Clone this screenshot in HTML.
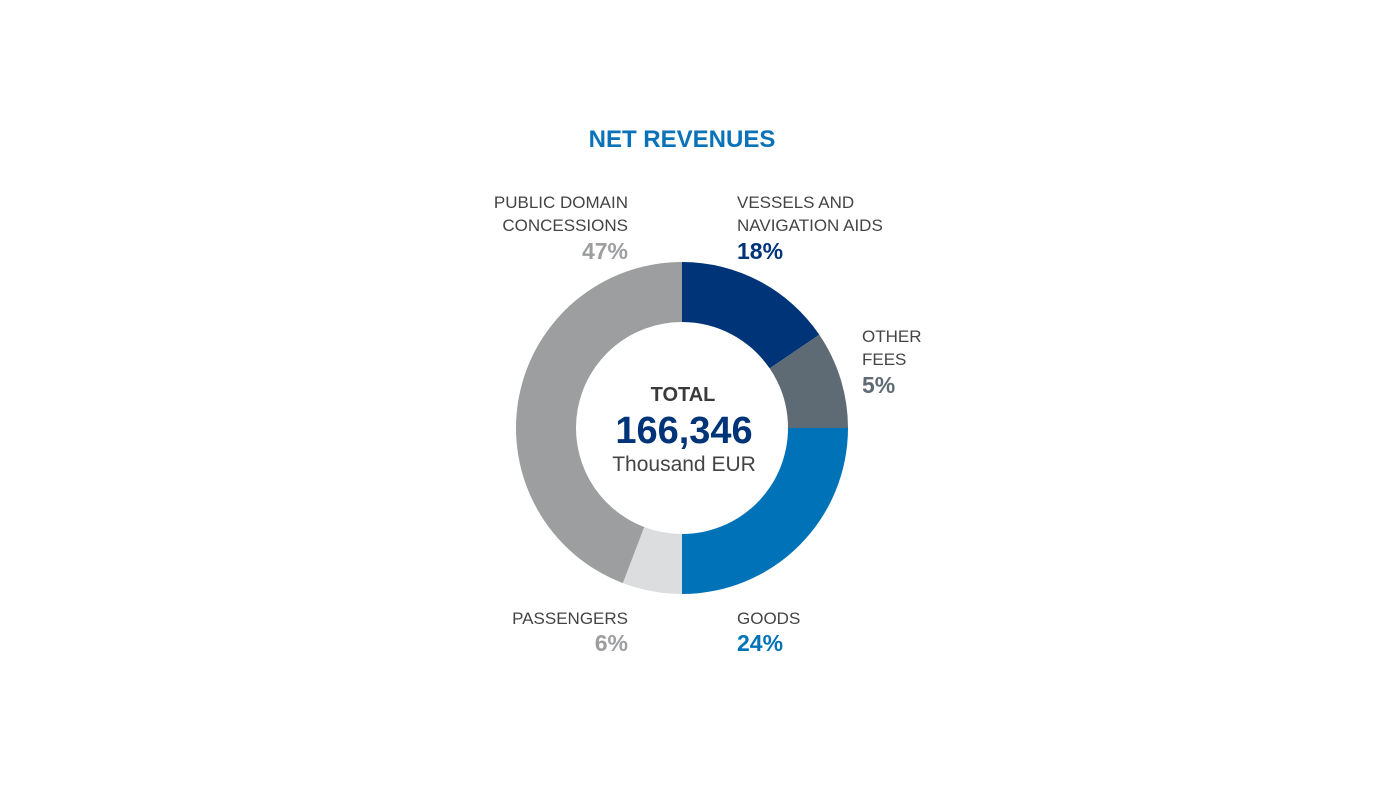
<!DOCTYPE html>
<html><head><meta charset="utf-8"><style>
body{margin:0;background:#fff;}
svg text{font-family:"Liberation Sans",sans-serif;}
</style></head><body>
<svg id="chart" width="1400" height="800" viewBox="0 0 1400 800" xmlns="http://www.w3.org/2000/svg">
<text x="682" y="147" text-anchor="middle" font-size="24" font-weight="bold" fill="#0a72b8">NET REVENUES</text>
<g id="slices"></g>
<g id="labels"></g>
<text x="683" y="401" text-anchor="middle" font-size="20" font-weight="bold" fill="#3a3a3a">TOTAL</text>
<text x="684" y="443" text-anchor="middle" font-size="38" font-weight="bold" fill="#003478">166,346</text>
<text x="684" y="471" text-anchor="middle" font-size="21" fill="#444">Thousand EUR</text>
</svg>
<script>
// drawn-angle shares (clockwise from 12 o'clock)
const categories = ["VESSELS AND|NAVIGATION AIDS","OTHER|FEES","GOODS","PASSENGERS","PUBLIC DOMAIN|CONCESSIONS"];
const values = [15.5, 9.5, 25, 5.8, 44.2];
const pctLabels = ["18%","5%","24%","6%","47%"];
const colors = ["#003478","#5f6b74","#0072b8","#dcdddf","#9d9ea0"];
const pctColors = ["#003478","#5f6b74","#0072b8","#9d9ea0","#9d9ea0"];
const cx=682, cy=428, R=166, r=106;
const total = values.reduce((a,b)=>a+b,0);
const ns="http://www.w3.org/2000/svg";
const slices=document.getElementById('slices');
function pt(a,rad){return [cx+rad*Math.sin(a), cy-rad*Math.cos(a)];}
let acc=0;
values.forEach((v,i)=>{
  const a0=acc/total*2*Math.PI; acc+=v; const a1=acc/total*2*Math.PI;
  const large=(a1-a0)>Math.PI?1:0;
  const [x0,y0]=pt(a0,R),[x1,y1]=pt(a1,R),[x2,y2]=pt(a1,r),[x3,y3]=pt(a0,r);
  const p=document.createElementNS(ns,'path');
  p.setAttribute('d',`M${x0},${y0}A${R},${R} 0 ${large} 1 ${x1},${y1}L${x2},${y2}A${r},${r} 0 ${large} 0 ${x3},${y3}Z`);
  p.setAttribute('fill',colors[i]);
  
  
  slices.appendChild(p);
});
// label layout (positions only)
const layout=[{x:737,y:208,a:'start'},{x:862,y:342,a:'start'},{x:737,y:624,a:'start'},{x:628,y:624,a:'end'},{x:628,y:208,a:'end'}];
const lg=document.getElementById('labels');
categories.forEach((c,i)=>{
  const L=layout[i]; const lines=c.split('|');
  let y=L.y;
  if(i===2||i===3){y=L.y;}
  lines.forEach((ln,j)=>{
    const t=document.createElementNS(ns,'text');
    t.setAttribute('x',L.x); t.setAttribute('y',y+j*23);
    t.setAttribute('text-anchor',L.a); t.setAttribute('font-size','17'); t.setAttribute('fill','#444');
    t.textContent=ln;
    
    
    lg.appendChild(t);
  });
  const t=document.createElementNS(ns,'text');
  t.setAttribute('x',L.x); t.setAttribute('y',y+(lines.length-1)*23+51-23+(lines.length===1?0:0)+ (lines.length===1?28-5:0));
  if(lines.length===2) t.setAttribute('y',y+51);
  else t.setAttribute('y',y+27);
  t.setAttribute('text-anchor',L.a); t.setAttribute('font-size','23'); t.setAttribute('font-weight','bold'); t.setAttribute('fill',pctColors[i]);
  t.textContent=pctLabels[i];
  
  
  lg.appendChild(t);
});
</script>
</body></html>
